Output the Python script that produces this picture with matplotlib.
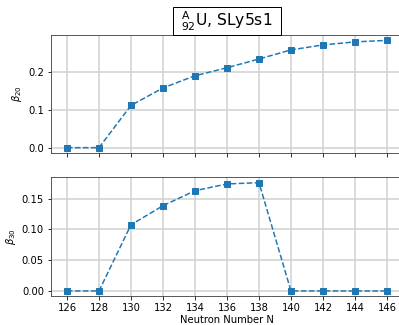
import matplotlib
matplotlib.use('Agg')
import matplotlib.pyplot as plt
from matplotlib.patches import Rectangle
import numpy as np

neutrons = [126, 128, 130, 132, 134, 136, 138, 140, 142, 144, 146]
beta20 = [0.0, 0.0, 0.111, 0.157, 0.189, 0.210, 0.233, 0.257, 0.270, 0.278, 0.282]
beta30 = [0.0, 0.0, 0.1076, 0.1386, 0.163, 0.174, 0.176, 0.0, 0.0, 0.0, 0.0]

fig = plt.figure(figsize=(399 / 72, 325 / 72), dpi=72)
ax1 = fig.add_axes([0.1278, 0.5292, 0.8822, 0.3631])
ax2 = fig.add_axes([0.1278, 0.0880, 0.8822, 0.3665], sharex=ax1)

ax1.plot(neutrons, beta20, '--s', color='C0')
ax2.plot(neutrons, beta30, '--s', color='C0')

ax1.set_ylabel(r'$\beta_{20}$')
ax2.set_ylabel(r'$\beta_{30}$')
ax2.set_xlabel('Neutron Number N', labelpad=2)
ax2.set_xticks(neutrons)
ax1.tick_params(labelbottom=False)
ax1.set_yticks([0.0, 0.1, 0.2])
ax2.set_yticks([0.0, 0.05, 0.10, 0.15])
ax2.set_yticklabels(['0.00', '0.05', '0.10', '0.15'])
ax1.set_xlim(125, 147)

for ax in (ax1, ax2):
    ax.grid(True, color='#d0d0d0', lw=1.5)
    for s in ax.spines.values():
        s.set_color('#333333')

# title box: text centred above top axes, box sits on the top spine
t = ax1.text(0.5, 1.118, r'$^{\mathrm{A}}_{92}$U, SLy5s1', transform=ax1.transAxes,
             ha='center', va='center', fontsize=15.5, zorder=6, clip_on=False)
fig.canvas.draw()
bb = t.get_window_extent().transformed(ax1.transAxes.inverted())
padx = 8 / (ax1.bbox.width)
box_h = 28 / ax1.bbox.height
rect = Rectangle((bb.x0 - padx, 1.0), bb.width + 2 * padx, box_h,
                 transform=ax1.transAxes, fc='white', ec='black', lw=1.0,
                 clip_on=False, zorder=5)
ax1.add_patch(rect)

fig.savefig('out.png', dpi=72)
